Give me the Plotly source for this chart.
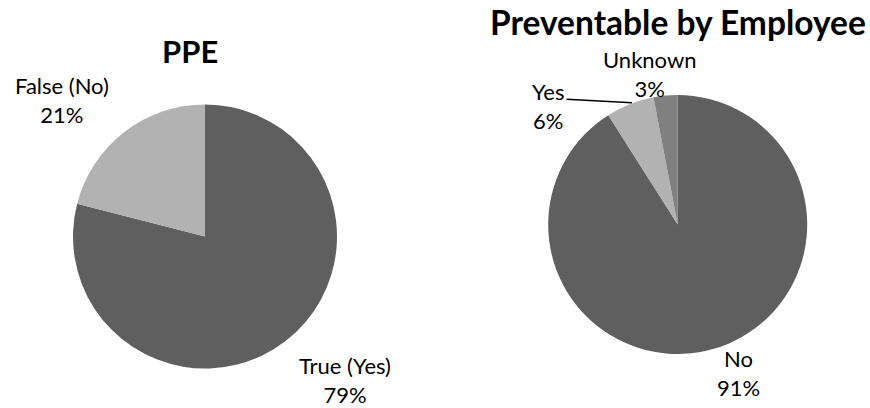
import plotly.graph_objects as go

W, H = 870, 408

# Data
ppe_labels = ["True (Yes)", "False (No)"]
ppe_values = [79, 21]
prev_labels = ["No", "Yes", "Unknown"]
prev_values = [91, 6, 3]

ppe_colors = ["#5f5f5f", "#b2b2b2"]
prev_colors = ["#5f5f5f", "#b2b2b2", "#808080"]

FONT = "Lato, Carlito, Calibri, sans-serif"


def px_x(x):
    return x / W


def px_y(y):
    return 1 - y / H


def domain(cx, cy, r):
    return dict(x=[px_x(cx - r), px_x(cx + r)], y=[px_y(cy + r), px_y(cy - r)])


fig = go.Figure()
fig.add_trace(go.Pie(
    labels=ppe_labels, values=ppe_values, sort=False, direction="clockwise",
    rotation=0, textinfo="none", hoverinfo="label+percent",
    marker=dict(colors=ppe_colors, line=dict(width=0)),
    domain=domain(205, 236.5, 132), showlegend=False,
))
fig.add_trace(go.Pie(
    labels=prev_labels, values=prev_values, sort=False, direction="clockwise",
    rotation=0, textinfo="none", hoverinfo="label+percent",
    marker=dict(colors=prev_colors, line=dict(width=0)),
    domain=domain(677.7, 224.5, 129.5), showlegend=False,
))


def pct(vals, i):
    return f"{round(vals[i] / sum(vals) * 100)}%"


annotations = []
# titles
annotations.append(dict(text="<b>PPE</b>", x=px_x(190), y=px_y(51),
                        font=dict(size=31, family=FONT, color="#000")))
annotations.append(dict(text="<b>Preventable by Employee</b>", x=px_x(678), y=px_y(22),
                        font=dict(size=33.5, family=FONT, color="#000")))

label_pos = {
    ("ppe", 0): (345, 380),
    ("ppe", 1): (62, 100),
    ("prev", 0): (738, 373),
    ("prev", 1): (548, 106),
    ("prev", 2): (649, 74),
}
LSIZE = 22
for i, lab in enumerate(ppe_labels):
    x, y = label_pos[("ppe", i)]
    annotations.append(dict(text=f"{lab}<br>{pct(ppe_values, i)}", x=px_x(x), y=px_y(y),
                            font=dict(size=LSIZE, family=FONT, color="#000")))
for i, lab in enumerate(prev_labels):
    x, y = label_pos[("prev", i)]
    annotations.append(dict(text=f"{lab}<br>{pct(prev_values, i)}", x=px_x(x), y=px_y(y),
                            font=dict(size=LSIZE, family=FONT, color="#000")))

for a in annotations:
    a.update(xref="paper", yref="paper", showarrow=False, xanchor="center", yanchor="middle")

fig.update_layout(
    width=W, height=H, margin=dict(l=0, r=0, t=0, b=0),
    paper_bgcolor="white", plot_bgcolor="white",
    annotations=annotations,
    shapes=[dict(type="line", xref="paper", yref="paper",
                 x0=px_x(566.5), y0=px_y(99.3), x1=px_x(632), y1=px_y(102.7),
                 line=dict(color="#000", width=1.6))],
)

fig.write_html("out.html")
